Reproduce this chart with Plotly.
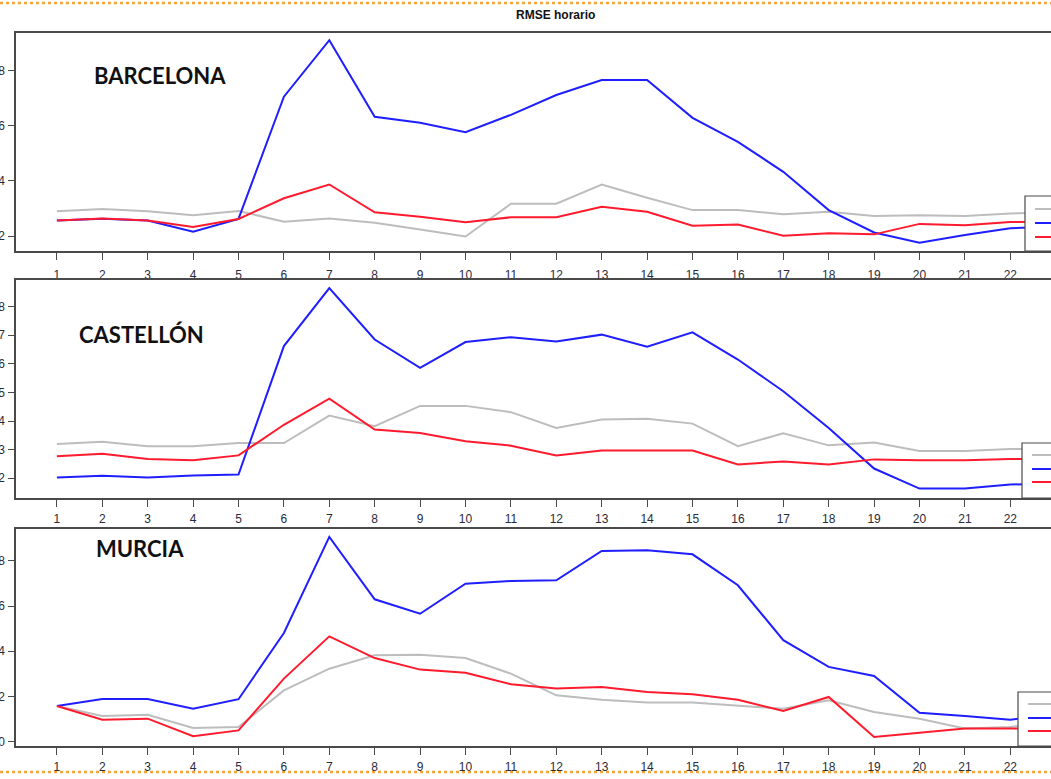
import plotly.graph_objects as go

W, H = 1051, 779

hours = list(range(1, 24))

# BARCELONA
bcn_grey = [2.90, 2.98, 2.90, 2.75, 2.91, 2.52, 2.64, 2.48, 2.24, 1.98, 3.17, 3.17, 3.87, 3.39, 2.94, 2.94, 2.79, 2.88, 2.73, 2.75, 2.73, 2.82, 2.85]
bcn_blue = [2.56, 2.63, 2.56, 2.16, 2.62, 7.06, 9.11, 6.33, 6.11, 5.77, 6.40, 7.12, 7.66, 7.66, 6.29, 5.42, 4.33, 2.94, 2.13, 1.76, 2.04, 2.28, 2.34]
bcn_red = [2.56, 2.64, 2.56, 2.33, 2.62, 3.37, 3.87, 2.86, 2.70, 2.50, 2.68, 2.68, 3.06, 2.88, 2.37, 2.42, 2.01, 2.10, 2.06, 2.44, 2.39, 2.51, 2.52]

# CASTELLÓN
cas_grey = [3.20, 3.28, 3.12, 3.12, 3.23, 3.23, 4.19, 3.82, 4.53, 4.53, 4.31, 3.76, 4.05, 4.08, 3.91, 3.12, 3.57, 3.15, 3.25, 2.95, 2.95, 3.02, 3.02]
cas_blue = [2.03, 2.09, 2.03, 2.10, 2.13, 6.62, 8.65, 6.85, 5.86, 6.76, 6.93, 6.78, 7.02, 6.60, 7.10, 6.15, 5.04, 3.76, 2.34, 1.64, 1.64, 1.78, 1.82]
cas_red = [2.77, 2.86, 2.67, 2.63, 2.80, 3.87, 4.78, 3.70, 3.58, 3.29, 3.14, 2.80, 2.97, 2.97, 2.97, 2.48, 2.59, 2.48, 2.66, 2.63, 2.63, 2.67, 2.67]

# MURCIA
mur_grey = [1.58, 1.14, 1.19, 0.61, 0.65, 2.27, 3.23, 3.82, 3.85, 3.70, 3.01, 2.05, 1.86, 1.73, 1.73, 1.61, 1.46, 1.83, 1.31, 1.02, 0.58, 0.65, 0.90]
mur_blue = [1.58, 1.89, 1.89, 1.46, 1.88, 4.81, 9.06, 6.30, 5.66, 6.99, 7.11, 7.14, 8.44, 8.47, 8.29, 6.92, 4.49, 3.31, 2.91, 1.28, 1.14, 0.97, 1.24]
mur_red = [1.58, 0.97, 1.02, 0.24, 0.50, 2.79, 4.66, 3.70, 3.19, 3.05, 2.54, 2.35, 2.42, 2.20, 2.10, 1.86, 1.36, 1.98, 0.21, 0.38, 0.58, 0.58, 0.60]

panel_names = ["BARCELONA", "CASTELLÓN", "MURCIA"]
panel_series = [
    (bcn_grey, bcn_blue, bcn_red),
    (cas_grey, cas_blue, cas_red),
    (mur_grey, mur_blue, mur_red),
]
y_ticks = [[2, 4, 6, 8], [2, 3, 4, 5, 6, 7, 8], [0, 2, 4, 6, 8]]
y_ranges = [[1.456, 9.37], [1.31, 8.93], [-0.19, 9.41]]

GREY, BLUE, RED = "#BDBDBD", "#1E1EFF", "#FF1A2E"
AX = "#4a4a4a"
TICKFONT = dict(family="Liberation Sans Narrow, Arial Narrow, Liberation Sans", size=12, color="#2b2b3a")


def xp(px):
    return px / W


def yp(py):
    return 1 - py / H


panels_px = [(33, 251), (280, 498), (529, 746)]
x_standoff = [5, 2, 2]
left_px = 16

fig = go.Figure()

for i, ((g, b, r), (top, bot)) in enumerate(zip(panel_series, panels_px)):
    n = "" if i == 0 else str(i + 1)
    xa, ya = "x" + n, "y" + n
    for vals, col in ((g, GREY), (b, BLUE), (r, RED)):
        fig.add_trace(go.Scatter(x=hours, y=vals, mode="lines", xaxis=xa, yaxis=ya,
                                 line=dict(color=col, width=2), showlegend=False,
                                 hoverinfo="skip"))
    x_one = 56.9
    step = 45.4
    xr = [1 - (x_one - left_px) / step, 1 + (W - x_one) / step]
    fig.layout["xaxis" + n] = dict(
        domain=[xp(left_px), 1], range=xr, anchor=ya, automargin=False,
        tickvals=hours, ticks="outside", ticklen=7, tickcolor=AX, tickwidth=1,
        showline=True, linecolor=AX, linewidth=1.5, mirror=True,
        showgrid=False, zeroline=False, ticklabelstandoff=x_standoff[i],
        tickfont=TICKFONT,
    )
    fig.layout["yaxis" + n] = dict(
        domain=[yp(bot), yp(top)], range=y_ranges[i], anchor=xa, automargin=False,
        tickvals=y_ticks[i], ticks="outside", ticklen=6, tickcolor=AX, tickwidth=1,
        showline=True, linecolor=AX, linewidth=1.5, mirror=False,
        showgrid=False, zeroline=False, ticklabelstandoff=1,
        tickfont=TICKFONT,
    )

shapes = []
legend_px = [
    (1025, 196, 1035, (209, 223, 237), 251),
    (1022, 443, 1032, (455, 469, 482), 498),
    (1018, 692, 1028, (704, 718, 731), 746),
]
for bx, by, lx, lys, bb in legend_px:
    shapes.append(dict(type="rect", xref="paper", yref="paper", x0=xp(bx), x1=xp(W + 5),
                       y0=yp(bb), y1=yp(by), fillcolor="white",
                       line=dict(color=AX, width=1.2), layer="above"))
    for ly, col in zip(lys, (GREY, BLUE, RED)):
        shapes.append(dict(type="line", xref="paper", yref="paper", x0=xp(lx), x1=xp(W),
                           y0=yp(ly), y1=yp(ly), line=dict(color=col, width=2), layer="above"))

for py in (3, 772):
    shapes.append(dict(type="line", xref="paper", yref="paper", x0=0, x1=1,
                       y0=yp(py), y1=yp(py), line=dict(color="#F4A53A", width=2.5, dash="dot"),
                       layer="below"))

annotations = [
    dict(text="<b>RMSE horario</b>", x=xp(555), y=yp(15), xref="paper", yref="paper",
         showarrow=False, font=dict(family="Liberation Sans Narrow, Arial Narrow, Liberation Sans", size=12, color="#111"),
         xanchor="center", yanchor="middle"),
]
label_pos = [(92, 75), (77, 334), (94, 548)]
for name, (lx, ly) in zip(panel_names, label_pos):
    annotations.append(dict(text="<b>" + name + "</b>", x=xp(lx), y=yp(ly), xref="paper", yref="paper",
                            showarrow=False, xanchor="left", yanchor="middle",
                            font=dict(family="Lato", size=22, color="#111")))

fig.update_layout(
    width=W, height=H, margin=dict(l=0, r=0, t=0, b=0, autoexpand=False),
    paper_bgcolor="white", plot_bgcolor="white",
    shapes=shapes, annotations=annotations, showlegend=False,
)

fig.write_html("out.html", config={"displayModeBar": False},
               post_script="document.body.style.margin='0';document.body.style.padding='0';")
